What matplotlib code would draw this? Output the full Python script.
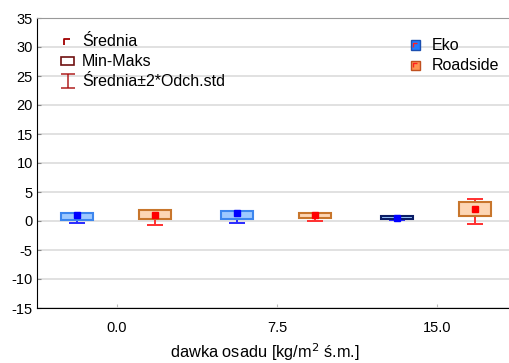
import matplotlib
matplotlib.use("Agg")
import matplotlib.pyplot as plt
from matplotlib.path import Path
from matplotlib.patches import Rectangle
import numpy as np

plt.rcParams['font.family'] = ['Liberation Sans', 'DejaVu Sans']

categories = ["0.0", "7.5", "15.0"]
series = ["Eko", "Roadside"]

eko_min = [0.15, 0.40, 0.40]
eko_max = [1.40, 1.80, 0.80]
eko_mean = [0.95, 1.30, 0.55]
eko_lo = [-0.43, -0.43, 0.10]
eko_hi = [1.30, 1.70, 0.70]

road_min = [0.38, 0.55, 0.83]
road_max = [1.98, 1.41, 3.30]
road_mean = [0.95, 1.00, 2.03]
road_lo = [-0.72, 0.03, -0.48]
road_hi = [1.90, 1.35, 3.76]

yticks = [-15, -10, -5, 0, 5, 10, 15, 20, 25, 30, 35]
legend_stats = ["Średnia", "Min-Maks", "Średnia±2*Odch.std"]
xlabel = "dawka osadu [kg/m$^2$ ś.m.]"

W, H = 509, 363
fig = plt.figure(figsize=(W / 100, H / 100), dpi=100)
AX_L, AX_T, AX_R, AX_B = 37, 18, 509, 308
ax = fig.add_axes([AX_L / W, (H - AX_B) / H, (AX_R - AX_L) / W, (AX_B - AX_T) / H])

x = np.arange(len(categories))
off = 0.25
bw = 0.205

styles = {
    "Eko": dict(fill="#9ec9ff", mean="#0000ff", whisk="#2a2aff",
                edges=["#3d86ee", "#3d86ee", "#0b1d66"]),
    "Roadside": dict(fill="#fdd6b4", mean="#ff0000", whisk="#ff3030",
                     edges=["#c8762c", "#c8762c", "#c8762c"]),
}

data = {
    "Eko": (eko_min, eko_max, eko_mean, eko_lo, eko_hi, -off),
    "Roadside": (road_min, road_max, road_mean, road_lo, road_hi, off - 0.0125),
}

for name in series:
    mn, mx, me, lo, hi, o = data[name]
    st = styles[name]
    xs = x + o
    mn = np.array(mn); mx = np.array(mx); me = np.array(me)
    lo = np.array(lo); hi = np.array(hi)
    ax.errorbar(xs, me, yerr=[me - lo, hi - me], fmt='none', ecolor=st["whisk"],
                elinewidth=1.4, capsize=6, capthick=1.4, zorder=2)
    ax.bar(xs, mx - mn, bottom=mn, width=bw, color=st["fill"],
           edgecolor=st["edges"], linewidth=1.5, zorder=3)
    ax.plot(xs, me, linestyle='none', marker='s', markersize=4.5,
            color=st["mean"], zorder=4)

ax.set_xlim(-0.5, 2.45)
ax.set_ylim(-15, 35)
ax.set_yticks(yticks)
ax.set_yticklabels([str(v) for v in yticks], fontsize=10.5)
ax.set_xticks(x)
ax.set_xticklabels(categories, fontsize=10.5)
ax.yaxis.grid(True, color="#dcdcdc", linewidth=1.2, zorder=0)
ax.set_axisbelow(True)
ax.tick_params(axis='y', direction='in', length=3, color='#888888', pad=3)
ax.tick_params(axis='x', direction='in', length=3, color='#bbbbbb', pad=9)
ax.spines['right'].set_visible(False)
ax.spines['top'].set_color('#999999')
ax.spines['left'].set_color('black')
ax.spines['bottom'].set_color('black')
fig.text(265 / W, 1 - 352 / H, xlabel, fontsize=11.8, ha='center', va='center')


def fx(px):
    return (px - AX_L) / (AX_R - AX_L)


def fy(py):
    return (AX_B - py) / (AX_B - AX_T)


tr = ax.transAxes
corner = Path([(-1, -1), (-1, 1), (1, 1)], [Path.MOVETO, Path.LINETO, Path.LINETO])
whisk = Path([(-1, 1), (1, 1), (0, 1), (0, -1), (-1, -1), (1, -1)],
             [Path.MOVETO, Path.LINETO, Path.MOVETO, Path.LINETO, Path.MOVETO, Path.LINETO])

# left legend (statistics)
ax.plot([fx(67)], [fy(42)], transform=tr, clip_on=False, linestyle='none',
        marker=corner, markersize=4, markeredgecolor="#a00000",
        markerfacecolor='none', markeredgewidth=1.3, zorder=6)
ax.add_patch(Rectangle((fx(61), fy(64.5)), fx(74) - fx(61), fy(57.5) - fy(64.5),
                       transform=tr, facecolor='white', edgecolor="#701010",
                       linewidth=1.2, clip_on=False, zorder=6))
ax.plot([fx(67.5)], [fy(80.5)], transform=tr, clip_on=False, linestyle='none',
        marker=whisk, markersize=10, markeredgecolor="#b02020",
        markerfacecolor='none', markeredgewidth=1.1, zorder=6)
for lbl, py in zip(legend_stats, [42, 61.5, 81]):
    ax.text(fx(82), fy(py), lbl, transform=tr, fontsize=11.5, va='center', ha='left')

# right legend (series)
leg_cols = [("#1f7bff", "#1b4fb0"), ("#ff9450", "#c05020")]
for (fc, ec), lbl, py in zip(leg_cols, series, [45, 65]):
    ax.add_patch(Rectangle((fx(411), fy(py + 4.5)), fx(420) - fx(411), fy(py - 4.5) - fy(py + 4.5),
                           transform=tr, facecolor=fc, edgecolor=ec, linewidth=1.0,
                           clip_on=False, zorder=6))
    ax.plot([fx(415)], [fy(py - 0.5)], transform=tr, clip_on=False, linestyle='none',
            marker=corner, markersize=2.8, markeredgecolor="#ff2020",
            markerfacecolor='none', markeredgewidth=1.0, zorder=7)
    ax.text(fx(432), fy(py), lbl, transform=tr, fontsize=11.5, va='center', ha='left')

fig.savefig("out.png", dpi=100)
